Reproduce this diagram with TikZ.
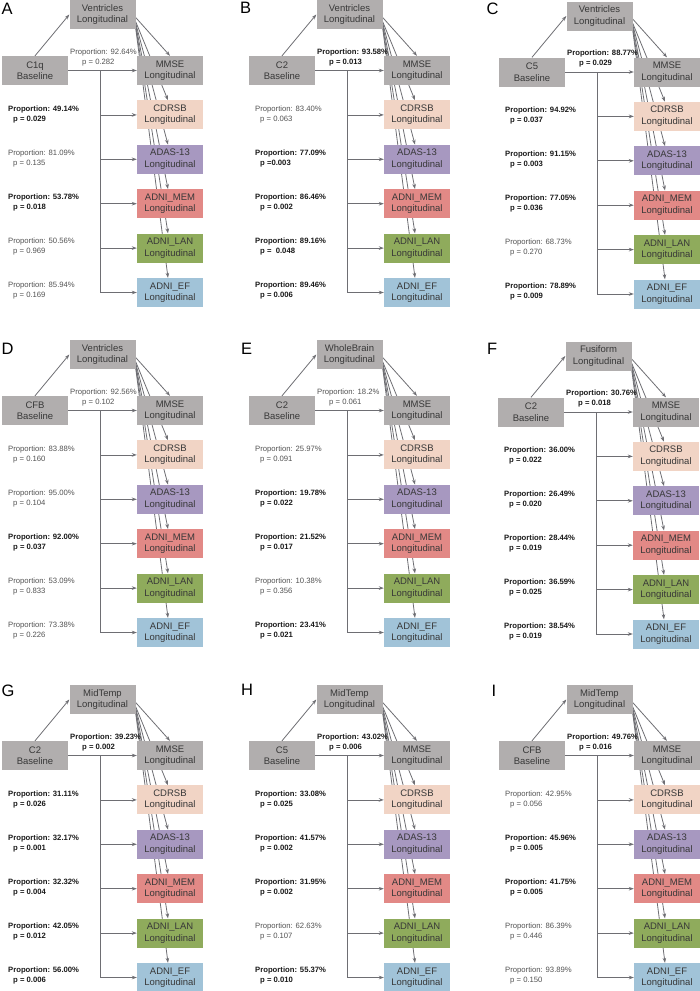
\documentclass[tikz,border=0pt]{standalone}
\usepackage{fontspec}
\setmainfont{Liberation Sans}
\usepackage{tikz}
\usetikzlibrary{arrows.meta, positioning, calc, backgrounds}

\definecolor{boxgray}{RGB}{177,174,174}
\definecolor{cdrsbcol}{RGB}{241,212,197}
\definecolor{adascol}{RGB}{167,152,192}
\definecolor{memcol}{RGB}{226,137,134}
\definecolor{lancol}{RGB}{143,171,92}
\definecolor{efcol}{RGB}{161,195,216}
\definecolor{wiregray}{RGB}{110,110,115}

\tikzset{
    varbox/.style={
        rectangle,
        draw=none,
        minimum width=66pt,
        minimum height=29pt,
        inner sep=1pt,
        align=center,
        fill=boxgray,
        text=black!78,
        font=\fontsize{9.5}{11.5}\selectfont
    },
    wire/.style={
        draw=wiregray,
        line width=0.8pt,
        -{Stealth[length=5pt,width=3.6pt]}
    },
    nslabel/.style={
        align=left,
        inner sep=0pt,
        text=black!68,
        font=\fontsize{7.7}{10}\selectfont
    },
    siglabel/.style={
        nslabel,
        text=black!90,
        font=\fontsize{7.7}{10}\selectfont\bfseries
    },
    panellabel/.style={
        anchor=north west,
        inner sep=0pt,
        font=\fontsize{16.5}{16.5}\selectfont
    }
}

% #1 shift, #2 mediator, #3 baseline, #4 direct effect, #5 effects on the five other scores
\newcommand{\mediation}[5]{%
\begin{scope}[shift={#1}]
\node[varbox] (med) at (102.5,14.5) {#2\\Longitudinal};
\node[varbox] (base) at (35,70.5) {#3\\Baseline};
\node[varbox] (out1) at (170,70.5) {MMSE\\Longitudinal};
\node[varbox, fill=cdrsbcol, below=15pt of out1] (out2) {CDRSB\\Longitudinal};
\node[varbox, fill=adascol, below=15pt of out2] (out3) {ADAS-13\\Longitudinal};
\node[varbox, fill=memcol, below=15pt of out3] (out4) {ADNI\_MEM\\Longitudinal};
\node[varbox, fill=lancol, below=15pt of out4] (out5) {ADNI\_LAN\\Longitudinal};
\node[varbox, fill=efcol, below=15pt of out5] (out6) {ADNI\_EF\\Longitudinal};
\coordinate (trunk) at (100,70.5);

% mediator paths, behind the boxes
\begin{scope}[on background layer]
\draw[wire] ([yshift=-3pt]med.east) -- (out1.north);
\foreach \k in {2,...,6}
  \draw[wire] ([yshift={-4pt-1.6pt*\k}]med.east) -- ([xshift=-2pt]out\k.north);
\end{scope}

\draw[wire] (base.north) -- (med.west);
\draw[wire] (base.east) -- (out1.west);
\foreach \k in {2,...,6}
  \draw[wire] (trunk) |- (out\k.west);

% effect labels
\foreach \s/\pr/\pv in {#4}
  \node[\s, anchor=west] (dlab) at (70,57.5) {Proportion: \pr\%\\\hspace{12pt}p \pv};
\foreach \s/\pr/\pv [count=\k from 2] in {#5}
  \node[\s, anchor=west] (lab\k) at (8,{70.5+44*(\k-1)}) {Proportion: \pr\%\\\hspace{5pt}p \pv};
\end{scope}}

\begin{document}
\begin{tikzpicture}[x=1pt, y=-1pt]
\useasboundingbox (0,0) rectangle (700,991);

% panel letters
\node[panellabel] (labA) at (1.5,3) {A};
\node[panellabel] (labB) at (240,2) {B};
\node[panellabel] (labC) at (486.5,3) {C};
\node[panellabel] (labD) at (1.5,343) {D};
\node[panellabel] (labE) at (241,343) {E};
\node[panellabel] (labF) at (487,343) {F};
\node[panellabel] (labG) at (1.5,685) {G};
\node[panellabel] (labH) at (241,684) {H};
\node[panellabel] (labI) at (491.5,685) {I};

% row 1
\mediation{(0,0)}{Ventricles}{C1q}{nslabel/92.64/= 0.282}
  {siglabel/49.14/= 0.029, nslabel/81.09/= 0.135, siglabel/53.78/= 0.018, nslabel/50.56/= 0.969, nslabel/85.94/= 0.169}
\mediation{(247,0)}{Ventricles}{C2}{siglabel/93.58/= 0.013}
  {nslabel/83.40/= 0.063, siglabel/77.09/=0.003, siglabel/86.46/= 0.002, siglabel/89.16/=\ \ 0.048, siglabel/89.46/= 0.006}
\mediation{(497,1.5)}{Ventricles}{C5}{siglabel/88.77/= 0.029}
  {siglabel/94.92/= 0.037, siglabel/91.15/= 0.003, siglabel/77.05/= 0.036, nslabel/68.73/= 0.270, siglabel/78.89/= 0.009}

% row 2
\mediation{(0,340)}{Ventricles}{CFB}{nslabel/92.56/= 0.102}
  {nslabel/83.88/= 0.160, nslabel/95.00/= 0.104, siglabel/92.00/= 0.037, nslabel/53.09/= 0.833, nslabel/73.38/= 0.226}
\mediation{(247,340)}{WholeBrain}{C2}{nslabel/18.2/= 0.061}
  {nslabel/25.97/= 0.091, siglabel/19.78/= 0.022, siglabel/21.52/= 0.017, nslabel/10.38/= 0.356, siglabel/23.41/= 0.021}
\mediation{(496,341.5)}{Fusiform}{C2}{siglabel/30.76/= 0.018}
  {siglabel/36.00/= 0.022, siglabel/26.49/= 0.020, siglabel/28.44/= 0.019, siglabel/36.59/= 0.025, siglabel/38.54/= 0.019}

% row 3
\mediation{(0,685)}{MidTemp}{C2}{siglabel/39.23/= 0.002}
  {siglabel/31.11/= 0.026, siglabel/32.17/= 0.001, siglabel/32.32/= 0.004, siglabel/42.05/= 0.012, siglabel/56.00/= 0.006}
\mediation{(247,685)}{MidTemp}{C5}{siglabel/43.02/= 0.006}
  {siglabel/33.08/= 0.025, siglabel/41.57/= 0.002, siglabel/31.95/= 0.002, nslabel/62.63/= 0.107, siglabel/55.37/= 0.010}
\mediation{(497,685)}{MidTemp}{CFB}{siglabel/49.76/= 0.016}
  {nslabel/42.95/= 0.056, siglabel/45.96/= 0.005, siglabel/41.75/= 0.005, nslabel/86.39/= 0.446, nslabel/93.89/= 0.150}

\end{tikzpicture}
\end{document}
